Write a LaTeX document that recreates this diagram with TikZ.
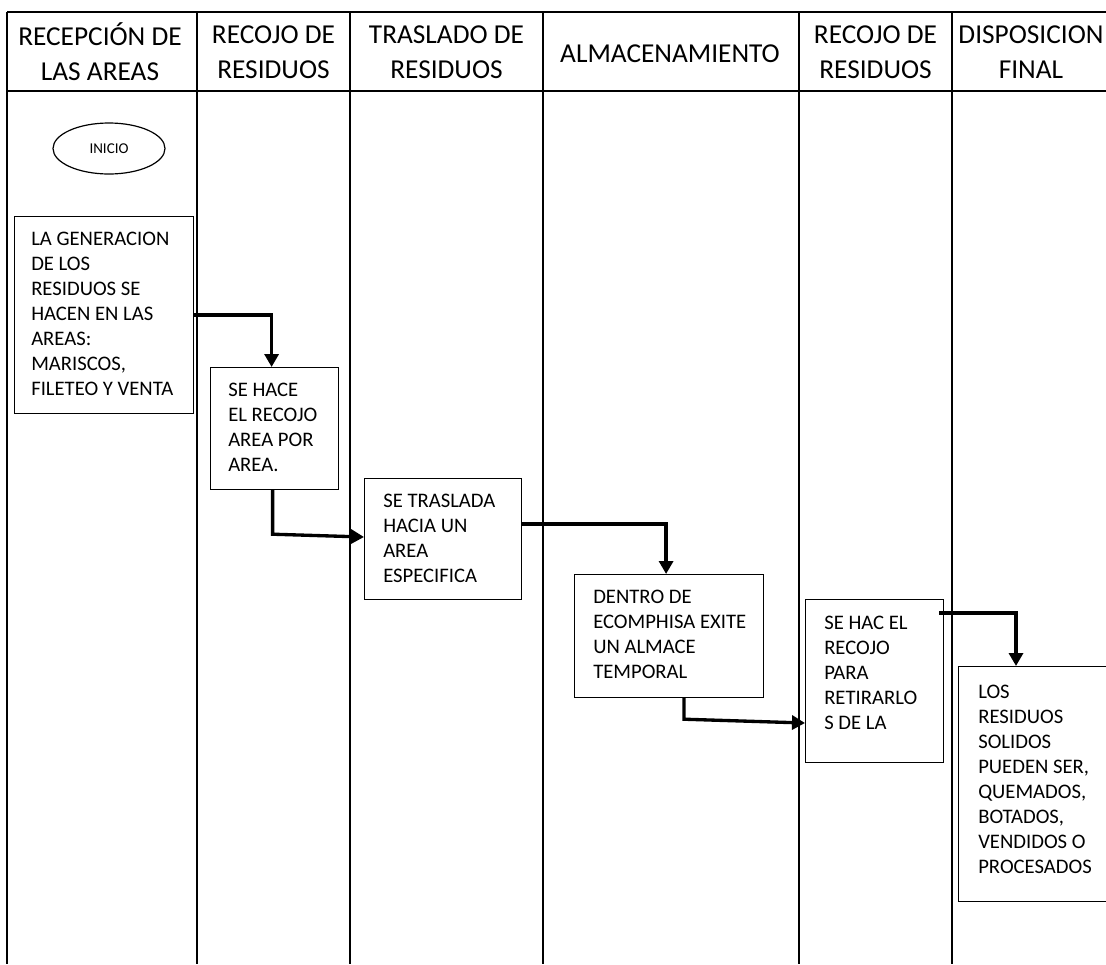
\documentclass[tikz,border=0pt]{standalone}
\usepackage{fontspec}
\setmainfont{Carlito}
\usetikzlibrary{arrows.meta,shapes.geometric}

\begin{document}
\begin{tikzpicture}[x=0.75pt,y=0.75pt,yscale=-1,xscale=1,
        lane/.style={line width=1.3pt},
        box/.style={draw,line width=0.9pt,anchor=north west,inner sep=0pt},
        boxtext/.style={anchor=north west,inner sep=0pt,align=left,font=\fontsize{15.5}{18.75}\selectfont},
        head/.style={align=center,inner sep=0pt,font=\fontsize{20.5}{26.25}\selectfont},
        flow/.style={line width=2.5pt,-{Triangle[length=9.75pt,width=10.5pt]}}]
        \useasboundingbox (0,0) rectangle (1106,964);
        \clip (0,0) rectangle (1106,964);

        %Straight Lines: header
        \draw [lane] (7,12) -- (1106,12) ;
        \draw [lane] (7,91) -- (1106,91) ;
        %Straight Lines: lanes
        \draw [lane] (7,12) -- (7,964) ;
        \draw [lane] (197,12) -- (197,964) ;
        \draw [lane] (350,12) -- (350,964) ;
        \draw [lane] (543,12) -- (543,964) ;
        \draw [lane] (799,12) -- (799,964) ;
        \draw [lane] (952,12) -- (952,964) ;

        % Text Node
        \node [head] (hRecep) at (100,52) {RECEPCIÓN DE\\LAS AREAS};
        % Text Node
        \node [head] (hRecojo) at (273.5,52) {RECOJO DE\\RESIDUOS};
        % Text Node
        \node [head] (hTras) at (446.5,52) {TRASLADO DE\\RESIDUOS};
        % Text Node
        \node [head] (hAlm) at (670,54) {ALMACENAMIENTO};
        % Text Node
        \node [head] (hRetiro) at (875.5,52) {RECOJO DE\\RESIDUOS};
        % Text Node
        \node [head] (hDisp) at (1031,52) {DISPOSICION\\FINAL};

        %Shape: Ellipse
        \node [draw,ellipse,line width=0.9pt,minimum width=84pt,minimum height=38.25pt,inner sep=0pt,font=\fontsize{11.25}{13}\selectfont] (inicio) at (109,148.5) {INICIO};

        %Shape: Rectangle
        \node [box,minimum width=134.25pt,minimum height=147.75pt] (gen) at (14,216) {};
        % Text Node
        \node [boxtext] (genT) at ([shift={(17,16)}]gen.north west) {LA GENERACION\\DE LOS\\RESIDUOS SE\\HACEN EN LAS\\AREAS:\\MARISCOS,\\FILETEO Y VENTA};

        %Shape: Rectangle
        \node [box,minimum width=96pt,minimum height=91.5pt] (recojo) at (210,367) {};
        % Text Node
        \node [boxtext] (recojoT) at ([shift={(18,16)}]recojo.north west) {SE HACE\\EL RECOJO\\AREA POR\\AREA.};

        %Shape: Rectangle
        \node [box,minimum width=117.75pt,minimum height=90.75pt] (tras) at (364,478) {};
        % Text Node
        \node [boxtext] (trasT) at ([shift={(19,16)}]tras.north west) {SE TRASLADA\\HACIA UN\\AREA\\ESPECIFICA};

        %Shape: Rectangle
        \node [box,minimum width=141.75pt,minimum height=92.25pt] (alm) at (574,574) {};
        % Text Node
        \node [boxtext] (almT) at ([shift={(19,16)}]alm.north west) {DENTRO DE\\ECOMPHISA EXITE\\UN ALMACE\\TEMPORAL};

        %Shape: Rectangle
        \node [box,minimum width=103.5pt,minimum height=122.25pt] (retiro) at (805,599) {};
        % Text Node
        \node [boxtext] (retiroT) at ([shift={(19,17)}]retiro.north west) {SE HAC EL\\RECOJO\\PARA\\RETIRARLO\\S DE LA};

        %Shape: Rectangle
        \node [box,minimum width=129pt,minimum height=176.25pt] (disp) at (958,666) {};
        % Text Node
        \node [boxtext] (dispT) at ([shift={(20,19)}]disp.north west) {LOS\\RESIDUOS\\SOLIDOS\\PUEDEN SER,\\QUEMADOS,\\BOTADOS,\\VENDIDOS O\\PROCESADOS};

        %Connectors
        \draw [flow] (gen.east) -| ([shift={(-3,0)}]recojo.north) ;
        \draw [flow] ([shift={(-2,0)}]recojo.south) -- ++(0,44) -- ([shift={(0,59)}]tras.north west) ;
        \draw [flow] ([shift={(0,46)}]tras.north east) -| ([shift={(-3,0)}]alm.north) ;
        \draw [flow] ([shift={(110,0)}]alm.south west) -- ++(0,21) -- ([shift={(0,124)}]retiro.north west) ;
        \draw [flow] ([shift={(-5,14)}]retiro.north east) -| ([shift={(58,0)}]disp.north west) ;

    \end{tikzpicture}
\end{document}
